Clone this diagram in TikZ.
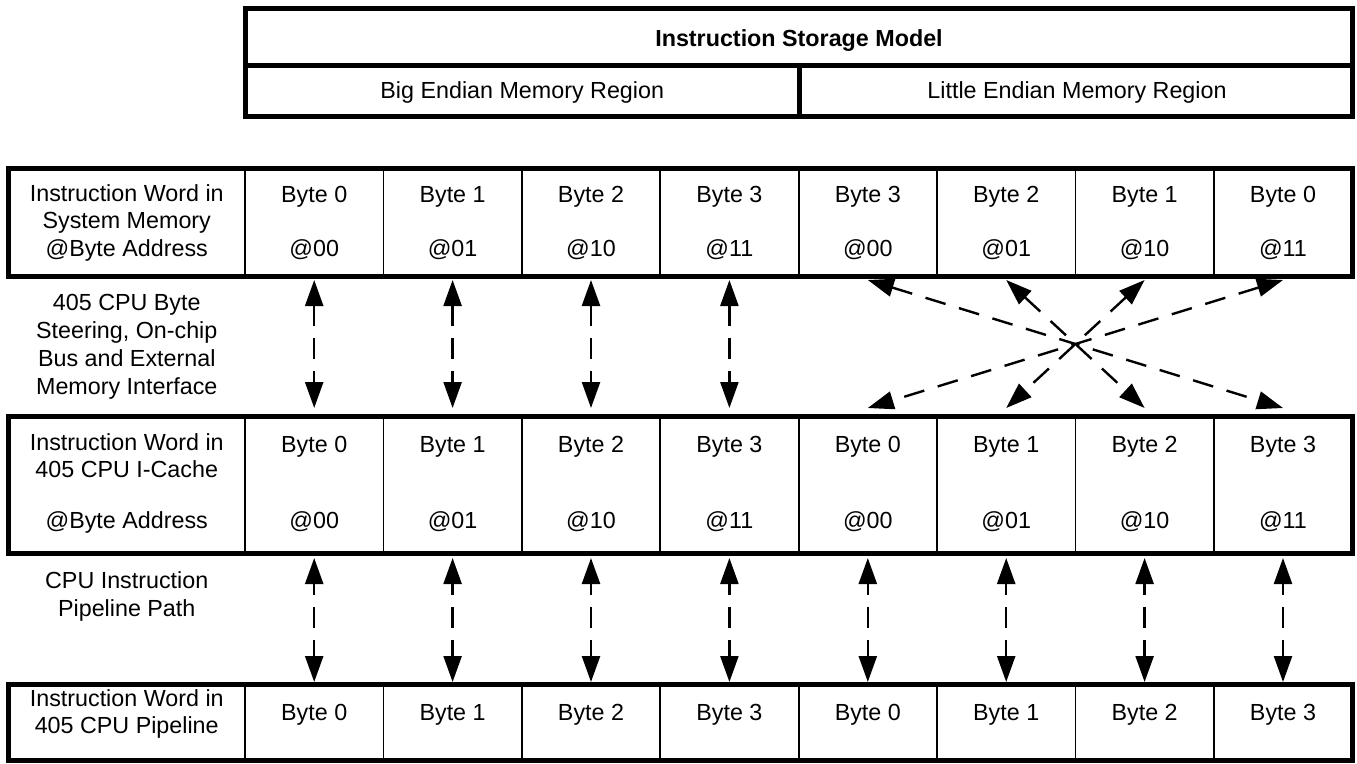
\documentclass[tikz,border=0pt]{standalone}
\usepackage{fontspec}
\setmainfont{Liberation Sans}
\usetikzlibrary{arrows.meta}
\begin{document}
\begin{tikzpicture}[x=1pt,y=-1pt,
  txt/.style={font=\fontsize{23.3}{28}\selectfont, inner sep=0pt, anchor=base},
  ttl/.style={font=\fontsize{23.3}{28}\selectfont\bfseries, inner sep=0pt, anchor=base},
  cell/.style={draw, line width=1.8pt, inner sep=0pt, outer sep=0pt, anchor=north west},
  frame/.style={draw, line width=5pt, inner sep=0pt, outer sep=0pt, anchor=north west},
  link/.style={line width=2.4pt, >={Triangle[length=26pt,width=18pt]}, <->},
  bus/.style={link, dash pattern=on 21pt off 12pt},
  pipe/.style={link, dash pattern=on 21pt off 12pt, dash phase=9pt},
  swap/.style={link, dash pattern=on 21pt off 14pt},
]
\useasboundingbox (0,0) rectangle (1357,763);

% ---- storage model header ----
\node[frame, minimum width=1107pt, minimum height=57pt] (model) at (245.5,8.5) {};
\node[frame, minimum width=553.5pt, minimum height=51pt] (bigreg) at (245.5,65.5) {};
\node[frame, minimum width=553.5pt, minimum height=51pt] (litreg) at (799,65.5) {};
\node[ttl] (modelt) at (799,46) {Instruction Storage Model};
\node[txt] (bigt) at (522.25,98) {Big Endian Memory Region};
\node[txt] (litt) at (1077,98) {Little Endian Memory Region};

% ---- row 1: system memory ----
\node[cell, minimum width=236.5pt, minimum height=107.5pt] (r1l) at (8.5,168.5) {};
\foreach \i in {1,...,8}
  \node[cell, minimum width=138.4pt, minimum height=107.5pt] (r1c\i) at ({245+138.4*(\i-1)},168.5) {};
\node[frame, minimum width=1344pt, minimum height=107.5pt] (row1) at (8.5,168.5) {};
\foreach \t/\y [count=\k] in {Instruction Word in/201, System Memory/228.5, @Byte Address/256}
  \node[txt] (r1t\k) at (126.75,\y) {\t};
\foreach \i/\b/\a in {1/0/00, 2/1/01, 3/2/10, 4/3/11, 5/3/00, 6/2/01, 7/1/10, 8/0/11} {
  \node[txt] (r1b\i) at ({245+138.4*(\i-0.5)},202) {Byte \b};
  \node[txt] (r1a\i) at ({245+138.4*(\i-0.5)},256) {@\a};
}

% ---- bus label ----
\foreach \t/\y [count=\k] in {405 CPU Byte/310, {Steering, On-chip}/338, Bus and External/366, Memory Interface/394}
  \node[txt] (bus\k) at (126.75,\y) {\t};

% ---- row 2: I-cache ----
\node[cell, minimum width=236.5pt, minimum height=137.5pt] (r2l) at (8.5,416) {};
\foreach \i in {1,...,8}
  \node[cell, minimum width=138.4pt, minimum height=137.5pt] (r2c\i) at ({245+138.4*(\i-1)},416) {};
\node[frame, minimum width=1344pt, minimum height=137.5pt] (row2) at (8.5,416) {};
\foreach \t/\y [count=\k] in {Instruction Word in/450, 405 CPU I-Cache/477, @Byte Address/528}
  \node[txt] (r2t\k) at (126.75,\y) {\t};
\foreach \i/\b/\a in {1/0/00, 2/1/01, 3/2/10, 4/3/11, 5/0/00, 6/1/01, 7/2/10, 8/3/11} {
  \node[txt] (r2b\i) at ({245+138.4*(\i-0.5)},452) {Byte \b};
  \node[txt] (r2a\i) at ({245+138.4*(\i-0.5)},528) {@\a};
}

% ---- pipeline label ----
\foreach \t/\y [count=\k] in {CPU Instruction/588, Pipeline Path/616}
  \node[txt] (pp\k) at (126.75,\y) {\t};

% ---- row 3: pipeline ----
\node[cell, minimum width=236.5pt, minimum height=76pt] (r3l) at (8.5,684.5) {};
\foreach \i in {1,...,8}
  \node[cell, minimum width=138.4pt, minimum height=76pt] (r3c\i) at ({245+138.4*(\i-1)},684.5) {};
\node[frame, minimum width=1344pt, minimum height=76pt] (row3) at (8.5,684.5) {};
\foreach \t/\y [count=\k] in {Instruction Word in/706.5, 405 CPU Pipeline/733}
  \node[txt] (r3t\k) at (126.75,\y) {\t};
\foreach \i/\b in {1/0, 2/1, 3/2, 4/3, 5/0, 6/1, 7/2, 8/3}
  \node[txt] (r3b\i) at ({245+138.4*(\i-0.5)},720) {Byte \b};

% ---- big endian: straight through ----
\foreach \i in {1,...,4}
  \draw[bus] ([yshift=-4pt]r1c\i.south) -- ([yshift=8pt]r2c\i.north);

% ---- little endian: byte swap ----
\draw[swap] ([yshift=-4pt]r1c5.south) -- ([yshift=8pt]r2c8.north);
\draw[swap] ([yshift=-4pt]r1c6.south) -- ([yshift=8pt]r2c7.north);
\draw[swap] ([yshift=-4pt]r1c7.south) -- ([yshift=8pt]r2c6.north);
\draw[swap] ([yshift=-4pt]r1c8.south) -- ([yshift=8pt]r2c5.north);

% ---- cache to pipeline ----
\foreach \i in {1,...,8}
  \draw[pipe] ([yshift=-4.5pt]r2c\i.south) -- ([yshift=2.5pt]r3c\i.north);
\end{tikzpicture}
\end{document}
